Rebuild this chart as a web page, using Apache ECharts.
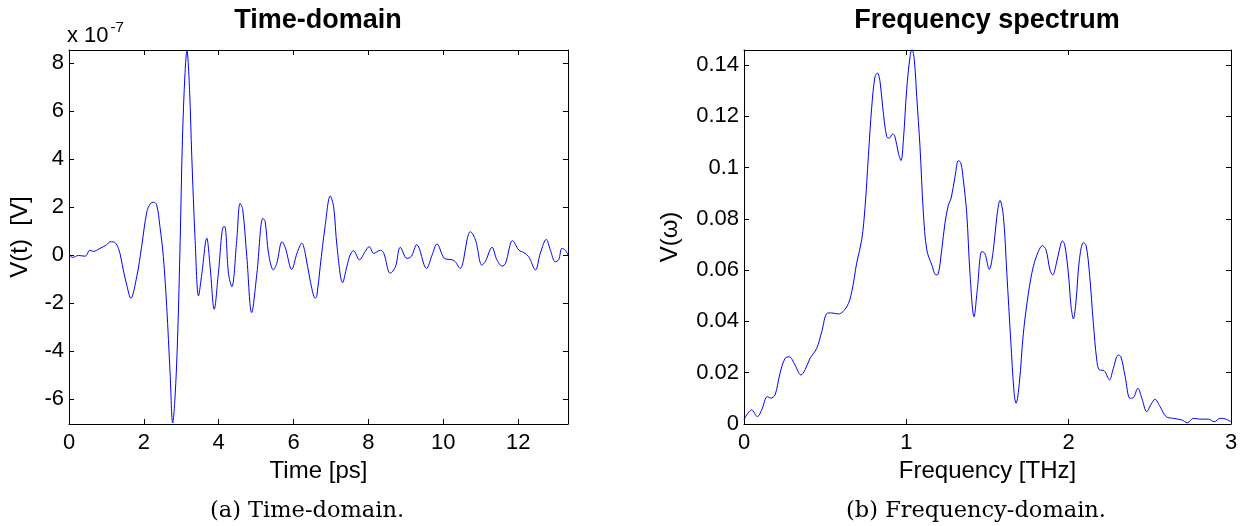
<!DOCTYPE html>
<html>
<head>
<meta charset="utf-8">
<script src="https://cdn.jsdelivr.net/npm/echarts@6/dist/echarts.min.js"></script>
<style>
  html, body { margin: 0; padding: 0; background: #fff; }
  #chart { width: 1243px; height: 526px; }
</style>
</head>
<body>
<div id="chart"></div>
<script>
// Time-domain pulse: time in ps, voltage in units of 1e-7 V
const timePs = [
  0, 0.1, 0.25, 0.43, 0.56, 0.65, 0.83, 1.0, 1.1, 1.18, 1.32, 1.45, 1.55, 1.65, 1.81, 1.94,
  2.08, 2.18, 2.26, 2.34, 2.43, 2.52, 2.61, 2.70, 2.77, 2.83, 2.90, 2.97, 3.03, 3.10, 3.15,
  3.22, 3.28, 3.37, 3.46, 3.55, 3.68, 3.77, 3.88, 3.99, 4.13, 4.17, 4.26, 4.35, 4.48, 4.57,
  4.64, 4.75, 4.88, 5.02, 5.18, 5.24, 5.33, 5.46, 5.55, 5.69, 5.78, 5.95, 6.09, 6.22, 6.31,
  6.44, 6.58, 6.62, 6.71, 6.84, 6.98, 7.07, 7.16, 7.31, 7.42, 7.51, 7.60, 7.76, 7.91, 8.02,
  8.14, 8.32, 8.41, 8.58, 8.72, 8.85, 9.03, 9.14, 9.29, 9.55, 9.70, 9.83, 10.03, 10.23,
  10.32, 10.45, 10.54, 10.63, 10.72, 10.86, 11.03, 11.12, 11.30, 11.43, 11.57, 11.66, 11.85,
  12.02, 12.15, 12.28, 12.46, 12.59, 12.75, 12.86, 12.99, 13.08, 13.17, 13.26, 13.33
];
const voltage = [
  0, -0.1, -0.02, -0.05, 0.2, 0.15, 0.28, 0.42, 0.55, 0.55, 0.28, -0.62, -1.3, -1.8, -0.9, 0.35,
  1.8, 2.15, 2.2, 2.1, 1.18, -0.07, -2.15, -4.9, -7.0, -6.0, -3.5, 0.6, 4.8, 7.6, 8.5,
  6.9, 4.1, 0.6, -1.7, -0.76, 0.7, -0.5, -2.26, -0.76, 1.18, 1.17, -0.76, -1.32, 0.6, 2.15,
  1.9, -0.07, -2.4, -0.76, 1.53, 1.4, 0.07, -0.62, -0.35, 0.55, 0.3, -0.6, 0.07, 0.49, 0.07,
  -1.04, -1.8, -1.7, -0.49, 1.18, 2.46, 2.0, 0.35, -1.15, -0.49, 0, 0.18, -0.2, 0.14, 0.35,
  0.07, 0.2, 0.07, -0.76, -0.49, 0.32, -0.14, -0.07, 0.43, -0.56, 0, 0.46, -0.14, -0.2,
  -0.28, -0.56, -0.2, 0.62, 0.97, 0.62, -0.42, -0.28, 0.32, -0.2, -0.46, -0.35, 0.6,
  0.2, 0.1, -0.07, -0.62, 0.07, 0.65, 0.2, -0.28, -0.2, 0.28, 0.2, 0
];

// Spectrum magnitude against frequency in THz
const freqTHz = [
  0, 0.016, 0.047, 0.082, 0.109, 0.144, 0.164, 0.191, 0.222, 0.253, 0.279, 0.314, 0.351,
  0.376, 0.407, 0.448, 0.479, 0.513, 0.54, 0.581, 0.633, 0.664, 0.694, 0.725, 0.746, 0.766,
  0.787, 0.807, 0.822, 0.838, 0.854, 0.879, 0.895, 0.916, 0.93, 0.951, 0.967, 0.982, 1.002,
  1.023, 1.035, 1.049, 1.064, 1.084, 1.105, 1.126, 1.157, 1.183, 1.197, 1.218, 1.238, 1.259,
  1.276, 1.3, 1.321, 1.336, 1.351, 1.372, 1.392, 1.417, 1.437, 1.465, 1.483, 1.511, 1.536,
  1.556, 1.577, 1.598, 1.619, 1.643, 1.664, 1.676, 1.696, 1.721, 1.752, 1.782, 1.813, 1.838,
  1.86, 1.885, 1.902, 1.922, 1.947, 1.961, 1.976, 1.998, 2.015, 2.029, 2.046, 2.066, 2.091,
  2.107, 2.128, 2.152, 2.173, 2.189, 2.218, 2.251, 2.275, 2.306, 2.322, 2.348, 2.378, 2.399,
  2.426, 2.451, 2.481, 2.505, 2.532, 2.563, 2.6, 2.645, 2.697, 2.731, 2.768, 2.809, 2.861,
  2.896, 2.933, 2.963, 3.0
];
const magnitude = [
  0.0016, 0.0035, 0.0055, 0.0029, 0.0055, 0.0107, 0.0101, 0.0113, 0.0198, 0.0256, 0.0262, 0.023, 0.0191,
  0.0211, 0.0256, 0.0295, 0.036, 0.0432, 0.0433, 0.0429, 0.0457, 0.0516, 0.0627, 0.0718, 0.0848, 0.1042,
  0.1237, 0.1354, 0.1368, 0.1335, 0.1237, 0.112, 0.1115, 0.1131, 0.112, 0.1056, 0.1027, 0.1108, 0.1303,
  0.1433, 0.146, 0.142, 0.1277, 0.1082, 0.0822, 0.0679, 0.062, 0.0581, 0.0585, 0.0679, 0.0783, 0.0854,
  0.088, 0.0965, 0.1027, 0.1017, 0.0952, 0.0822, 0.0588, 0.0418, 0.0523, 0.0672, 0.0666, 0.0603, 0.0679,
  0.0800, 0.0871, 0.0809, 0.0588, 0.0328, 0.012, 0.0081, 0.0159, 0.0354, 0.051, 0.0613, 0.0672, 0.0695,
  0.068, 0.06, 0.0581, 0.062, 0.0691, 0.0714, 0.0697, 0.0588, 0.0457, 0.041, 0.0484, 0.064, 0.0707,
  0.0697, 0.0588, 0.0393, 0.025, 0.0211, 0.0208, 0.0172, 0.0217, 0.0269, 0.0262, 0.0185, 0.01, 0.0103,
  0.0139, 0.01, 0.0048, 0.0074, 0.0096, 0.0068, 0.0029, 0.0022, 0.0016, 0.0005, 0.0022, 0.0019, 0.0019,
  0.0009, 0.0022, 0.002, 0.0009
];

// Tick labels
const timeTicks = [0, 2, 4, 6, 8, 10, 12];
const voltTicks = [-6, -4, -2, 0, 2, 4, 6, 8];
const freqTicks = [0, 1, 2, 3];
const magTicks = [0, 0.02, 0.04, 0.06, 0.08, 0.1, 0.12, 0.14];

const FONT = 'Liberation Sans';
const SERIF = 'DejaVu Serif';
const TICK_SIZE = 22;
const NAME_SIZE = 24;

function pairs(xs, ys) {
  return xs.map((x, i) => [x, ys[i]]);
}

// A boxed axis: one visible axis with labels and a mirror with only inward ticks
function valueAxis(opts) {
  const { gridIndex, min, max, ticks, position, name, nameGap, mirror, labelMargin } = opts;
  const axis = {
    type: 'value',
    gridIndex,
    position,
    min,
    max,
    splitLine: { show: false },
    axisLine: { show: true, onZero: false, lineStyle: { color: '#000', width: 1 } },
    axisTick: { show: true, inside: true, length: 5, customValues: ticks, lineStyle: { color: '#000' } },
    axisLabel: {
      show: !mirror,
      customValues: ticks,
      color: '#000',
      fontFamily: FONT,
      fontSize: TICK_SIZE,
      margin: labelMargin,
      formatter: v => String(+v.toFixed(4))
    }
  };
  if (!mirror && name) {
    axis.name = name;
    axis.nameLocation = 'middle';
    axis.nameGap = nameGap;
    axis.nameTextStyle = { color: '#000', fontFamily: FONT, fontSize: NAME_SIZE };
  }
  return axis;
}

const chart = echarts.init(document.getElementById('chart'), null, { renderer: 'canvas' });

const tMin = 0, tMax = 13.33, vMin = -7.04, vMax = 8.54;
const fMin = 0, fMax = 3.0, mMin = 0, mMax = 0.1458;

const titleStyle = { fontFamily: FONT, fontSize: 27, fontWeight: 'bold', fill: '#000',
  align: 'center', verticalAlign: 'middle' };
const captionStyle = { fontFamily: SERIF, fontSize: 22.5, fill: '#000',
  align: 'center', verticalAlign: 'middle' };

chart.setOption({
  backgroundColor: '#fff',
  animation: false,
  grid: [
    { left: 69, top: 50, width: 499, height: 374, containLabel: false },
    { left: 744, top: 50, width: 487, height: 374, containLabel: false }
  ],
  xAxis: [
    valueAxis({ gridIndex: 0, min: tMin, max: tMax, ticks: timeTicks, position: 'bottom',
      name: 'Time [ps]', nameGap: 35, labelMargin: 8 }),
    valueAxis({ gridIndex: 0, min: tMin, max: tMax, ticks: timeTicks, position: 'top', mirror: true }),
    valueAxis({ gridIndex: 1, min: fMin, max: fMax, ticks: freqTicks, position: 'bottom',
      name: 'Frequency [THz]', nameGap: 35, labelMargin: 8 }),
    valueAxis({ gridIndex: 1, min: fMin, max: fMax, ticks: freqTicks, position: 'top', mirror: true })
  ],
  yAxis: [
    valueAxis({ gridIndex: 0, min: vMin, max: vMax, ticks: voltTicks, position: 'left',
      name: 'V(t)  [V]', nameGap: 37, labelMargin: 5 }),
    valueAxis({ gridIndex: 0, min: vMin, max: vMax, ticks: voltTicks, position: 'right', mirror: true }),
    valueAxis({ gridIndex: 1, min: mMin, max: mMax, ticks: magTicks, position: 'left',
      name: 'V(\u03c9)', nameGap: 62, labelMargin: 5 }),
    valueAxis({ gridIndex: 1, min: mMin, max: mMax, ticks: magTicks, position: 'right', mirror: true })
  ],
  series: [
    {
      type: 'line', xAxisIndex: 0, yAxisIndex: 0,
      data: pairs(timePs, voltage),
      showSymbol: false, smooth: 0.35, clip: true,
      lineStyle: { color: '#0000ff', width: 1 }
    },
    {
      type: 'line', xAxisIndex: 2, yAxisIndex: 2,
      data: pairs(freqTHz, magnitude),
      showSymbol: false, smooth: 0.35, clip: true,
      lineStyle: { color: '#0000ff', width: 1 }
    }
  ],
  graphic: [
    { type: 'text', x: 318, y: 21, style: Object.assign({ text: 'Time-domain' }, titleStyle) },
    { type: 'text', x: 987, y: 21, style: Object.assign({ text: 'Frequency spectrum' }, titleStyle) },
    {
      type: 'text', x: 67, y: 36,
      style: {
        text: '{b|x 10}{s|-7}',
        verticalAlign: 'middle',
        rich: {
          b: { fontFamily: FONT, fontSize: 22, fill: '#000' },
          s: { fontFamily: FONT, fontSize: 15, fill: '#000', padding: [0, 0, 16, 2] }
        }
      }
    },
    { type: 'text', x: 307, y: 511, style: Object.assign({ text: '(a) Time-domain.' }, captionStyle) },
    { type: 'text', x: 976, y: 511, style: Object.assign({ text: '(b) Frequency-domain.' }, captionStyle) }
  ]
});
</script>
</body>
</html>
